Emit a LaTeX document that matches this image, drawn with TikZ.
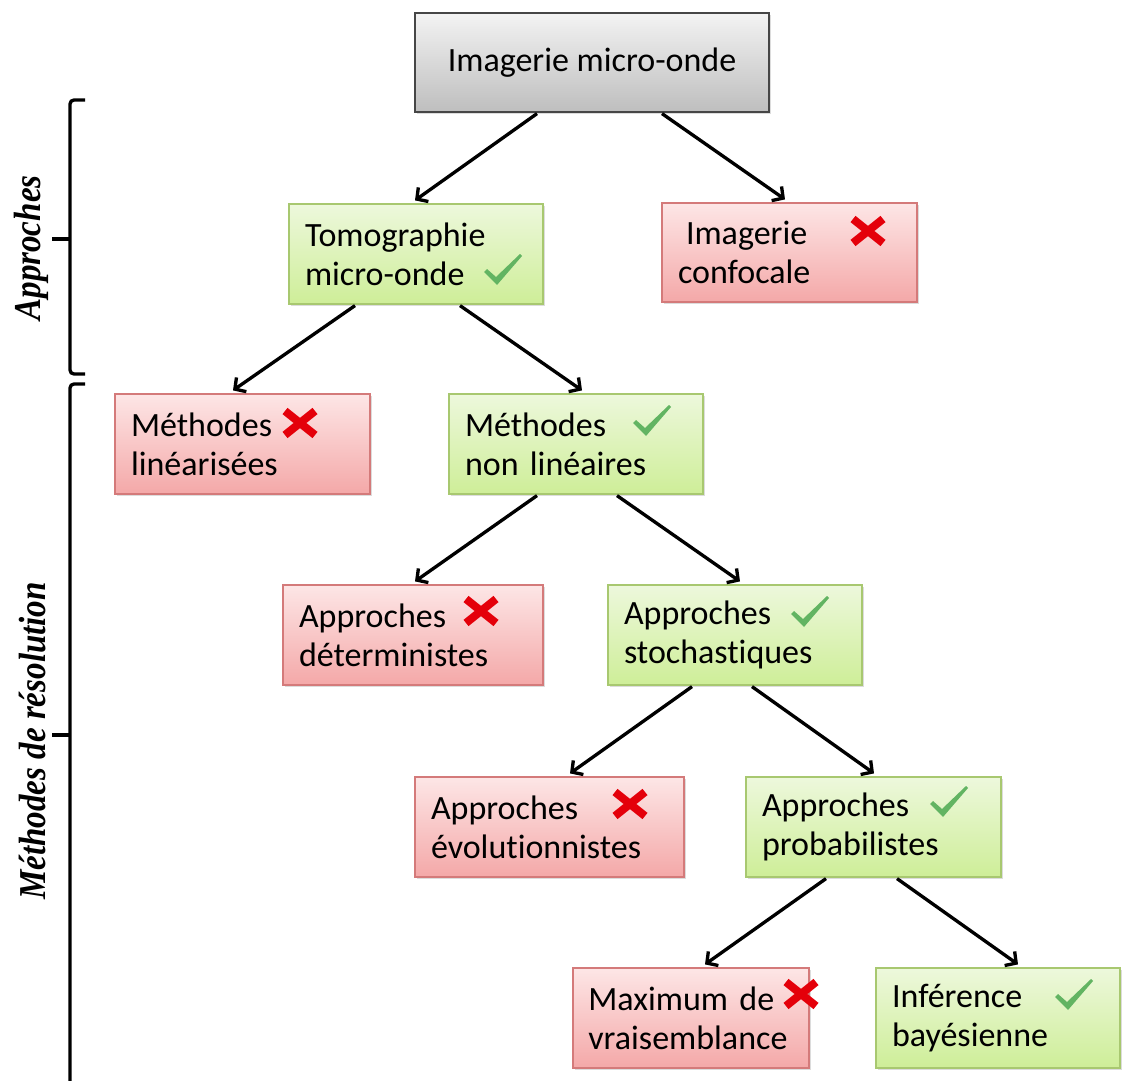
\documentclass[tikz,border=0pt]{standalone}
\usepackage{fontspec}
\setmainfont{Carlito}[Ligatures=CommonOff]
\newfontfamily\lblfont{Liberation Serif}
\usetikzlibrary{arrows.meta,calc,shadows}
\definecolor{gtop}{RGB}{237,248,220}
\definecolor{gbot}{RGB}{206,238,152}
\definecolor{gbrd}{RGB}{168,200,112}
\definecolor{rtop}{RGB}{253,230,230}
\definecolor{rbot}{RGB}{244,168,168}
\definecolor{rbrd}{RGB}{212,122,122}
\definecolor{ktop}{RGB}{243,243,243}
\definecolor{kbot}{RGB}{190,190,190}
\definecolor{kbrd}{RGB}{70,70,70}
\definecolor{xred}{RGB}{228,0,10}
\definecolor{cgreen}{RGB}{98,180,98}
\begin{document}
\begin{tikzpicture}[x=0.75pt,y=-0.75pt,
  box/.style={rectangle, inner xsep=12pt, inner ysep=0pt, minimum height=75pt,
    align=left, font=\fontsize{25.5pt}{29.5pt}\selectfont, line width=0.9pt,
    drop shadow={shadow xshift=1.2pt, shadow yshift=-1.8pt, opacity=0.28}},
  greenbox/.style={box, draw=gbrd, top color=gtop, bottom color=gbot},
  redbox/.style={box, draw=rbrd, top color=rtop, bottom color=rbot},
  graybox/.style={box, draw=kbrd, top color=ktop, bottom color=kbot, align=center},
  arr/.style={line width=2.5pt, -{Straight Barb[length=6pt,width=13pt,line width=2.5pt]}},
  brace/.style={line width=2.5pt, rounded corners=3pt},
  lbl/.style={font=\lblfont\bfseries\itshape\fontsize{28.5pt}{30pt}\selectfont, rotate=90, xscale=0.87},
  xm/.pic={\draw[xred, line width=6pt] (-15,-12) -- (15,12) (15,-12) -- (-15,12);},
  cm/.pic={\fill[cgreen] (-19,2) -- (-16,-1) -- (-7,7) -- (17,-16) -- (19,-14) -- (-6,15) -- cycle;}
]
\useasboundingbox (0,0) rectangle (1124,1081);

% boxes
\node[graybox, minimum width=265.5pt, minimum height=74.25pt] (top) at (592,62.5) {Imagerie micro-onde};
\node[greenbox, minimum width=190.5pt, text width=166.5pt] (tomo) at (416,254) {Tomographie\\micro-onde};
\node[redbox, minimum width=191.25pt, text width=167.25pt, minimum height=74.25pt] (conf) at (789.5,252.5) {\hspace*{6pt}Imagerie\\confocale};
\node[redbox, minimum width=191.25pt, text width=167.25pt] (lin) at (242.5,444) {M\'ethodes\\lin\'earis\'ees};
\node[greenbox, minimum width=190.5pt, text width=166.5pt] (nonlin) at (576,444) {M\'ethodes\\non\ lin\'eaires};
\node[redbox, minimum width=195pt, text width=171pt] (det) at (413,635) {Approches\\d\'eterministes};
\node[greenbox, minimum width=190.5pt, text width=166.5pt] (stoch) at (735,635) {Approches\\stochastiques};
\node[redbox, minimum width=201.75pt, text width=177.75pt] (evol) at (549.5,827) {Approches\\\'evolutionnistes};
\node[greenbox, minimum width=191.25pt, text width=167.25pt] (prob) at (873.5,827) {Approches\\probabilistes};
\node[redbox, minimum width=177pt, text width=154pt, inner xsep=11.5pt] (maxv) at (691,1018) {Maximum de\\vraisemblance};
\node[greenbox, minimum width=183pt, text width=159pt] (bayes) at (998,1018) {Inf\'erence\\bay\'esienne};

% marks
\pic at (503,270) {cm};
\pic at (868,231) {xm};
\pic at (300,423) {xm};
\pic at (652,421) {cm};
\pic at (481,611) {xm};
\pic at (810,612) {cm};
\pic at (630,804) {xm};
\pic at (949,802) {cm};
\pic at (801,994) {xm};
\pic at (1074,995) {cm};

% arrows
\draw[arr] ($(top.south)+(-55,1)$) -- ($(tomo.north)+(-1,-3)$);
\draw[arr] ($(top.south)+(70,1)$) -- ($(conf.north)+(-4.5,-3)$);
\draw[arr] ($(tomo.south)+(-61,1)$) -- ($(lin.north)+(-9.5,-3)$);
\draw[arr] ($(tomo.south)+(44,1)$) -- ($(nonlin.north)+(6,-3)$);
\draw[arr] ($(nonlin.south)+(-39,1)$) -- ($(det.north)+(2,-3)$);
\draw[arr] ($(nonlin.south)+(41,1)$) -- ($(stoch.north)+(5,-3)$);
\draw[arr] ($(stoch.south)+(-43,1)$) -- ($(evol.north)+(20.5,-3)$);
\draw[arr] ($(stoch.south)+(17,1)$) -- ($(prob.north)+(0.5,-3)$);
\draw[arr] ($(prob.south)+(-47.5,1)$) -- ($(maxv.north)+(14,-3)$);
\draw[arr] ($(prob.south)+(23.5,1)$) -- ($(bayes.north)+(20,-3)$);

% braces
\draw[brace] (85,100) -- (70,100) -- (70,374) -- (85,374);
\draw[line width=2.5pt] (52,239) -- (70,239);
\draw[brace] (85,384) -- (70,384) -- (70,1095);
\draw[line width=2.5pt] (52,735) -- (70,735);
\node[lbl] (la) at (31,248) {Approches};
\node[lbl] (lm) at (33,741) {M\'ethodes de r\'esolution};
\end{tikzpicture}
\end{document}
